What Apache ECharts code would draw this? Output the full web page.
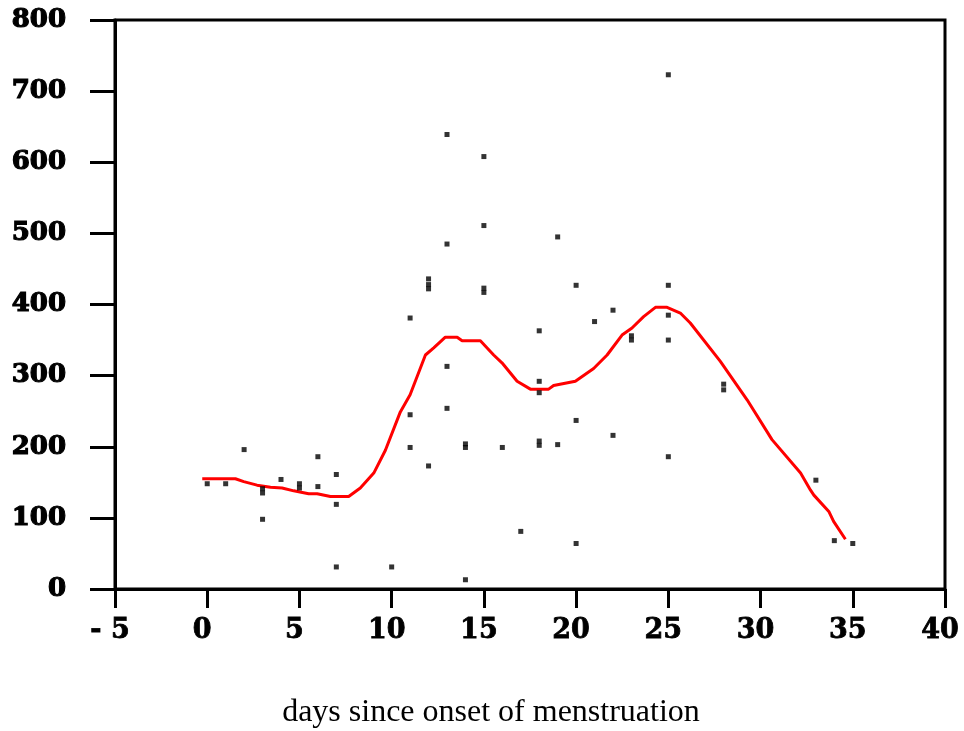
<!DOCTYPE html>
<html><head><meta charset="utf-8">
<script src="https://cdn.jsdelivr.net/npm/echarts@6/dist/echarts.min.js"></script>
<style>html,body{margin:0;padding:0;background:#fff}#c{width:964px;height:731px}</style>
</head><body><div id="c"></div>
<script>
var xTicks = [-5, 0, 5, 10, 15, 20, 25, 30, 35, 40];
var yTicks = [0, 100, 200, 300, 400, 500, 600, 700, 800];
var pointDays = [0,1,2,3,3,3,4,5,5,6,6,7,7,7,10,11,11,11,12,12,12,12,13,13,13,13,14,14,14,15,15,15,15,16,17,18,18,18,18,18,19,19,20,20,20,21,22,22,23,23,25,25,25,25,25,28,28,33,34,35];
var pointValues = [148,148,196,98,135,141,154,148,142,186,144,161,119,31,31,381,245,199,436,422,428,173,639,485,313,254,199,204,13,608,511,417,423,199,81,363,292,276,202,208,203,495,427,237,64,376,392,216,350,356,723,427,385,350,186,288,280,153,68,64];
var curveDays = [-0.27,1.53,1.98,2.7,3.43,4.06,4.69,5.5,5.96,6.68,7.67,8.3,9.03,9.66,10.47,11.0,11.83,12.28,12.91,13.55,13.82,14.81,15.53,15.98,16.8,17.52,18.51,18.78,19.96,20.95,21.68,22.49,23.03,23.66,24.3,24.93,25.65,26.19,27.82,29.27,30.62,32.17,32.71,32.89,33.7,33.96,34.6];
var curveValues = [155,155,151,146,143,142,138,134,134,130,130,142,163,195,249,273,329,339,354,354,349,349,329,318,292,281,281,286,292,310,329,357,367,383,396,396,388,374,320,266,210,163,139,132,109,95,70];

var pts = pointDays.map(function(d,i){return [d, pointValues[i]];});
var curve = curveDays.map(function(d,i){return [d, curveValues[i]];});
var chart = echarts.init(document.getElementById('c'));
chart.setOption({
  animation:false,
  grid:{left:115, top:20, right:19, bottom:142, show:true, borderColor:'#000', borderWidth:3, containLabel:false, outerBoundsMode:'none'},
  xAxis:{type:'value', min:-5, max:40, interval:5,
    axisLine:{show:true, onZero:false, lineStyle:{color:'#000', width:3}},
    axisTick:{show:true, inside:false, length:19, lineStyle:{color:'#000', width:3}},
    axisLabel:{margin:28, fontFamily:'DejaVu Serif', fontWeight:'bold', fontSize:27, color:'#000',
      textBorderColor:'#000', textBorderWidth:0.8, padding:[0,10,0,0],
      formatter:function(v){return v<0 ? '- '+Math.abs(v) : String(v);}},
    splitLine:{show:false},
    name:'days since onset of menstruation', nameLocation:'middle', nameGap:108,
    nameTextStyle:{fontFamily:'Liberation Serif', fontSize:32, color:'#000', padding:[0,78,0,0]}
  },
  yAxis:{type:'value', min:0, max:800, interval:100,
    axisLine:{show:true, onZero:false, lineStyle:{color:'#000', width:3}},
    axisTick:{show:true, inside:false, length:25, lineStyle:{color:'#000', width:3}},
    axisLabel:{margin:49, fontFamily:'DejaVu Serif', fontWeight:'bold', fontSize:26, color:'#000',
      textBorderColor:'#000', textBorderWidth:1.2},
    splitLine:{show:false}
  },
  series:[
    {type:'scatter', data:pts, symbol:'rect', symbolSize:5, itemStyle:{color:'#000'}, z:3},
    {type:'line', data:curve, showSymbol:false, smooth:false, lineStyle:{color:'#ff0000', width:3}, z:2}
  ]
});
</script></body></html>
